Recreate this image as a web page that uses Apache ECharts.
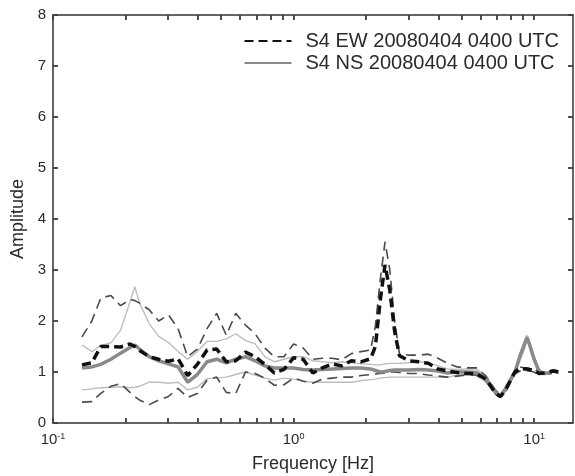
<!DOCTYPE html>
<html>
<head>
<meta charset="utf-8">
<script src="https://cdn.jsdelivr.net/npm/echarts@6/dist/echarts.min.js"></script>
<style>
  html, body { margin: 0; padding: 0; background: #fff; }
  #chart { width: 575px; height: 476px; }
</style>
</head>
<body>
<div id="chart"></div>
<script>
// frequency in Hz (log spaced)
var freq = [0.132, 0.145, 0.158, 0.174, 0.191, 0.209, 0.219, 0.229, 0.251, 0.275,
  0.302, 0.331, 0.363, 0.398, 0.437, 0.479, 0.525, 0.575, 0.631, 0.692,
  0.759, 0.832, 0.912, 1.0, 1.096, 1.202, 1.318, 1.445, 1.585, 1.738,
  1.905, 2.089, 2.188, 2.291, 2.399, 2.512, 2.630, 2.754, 3.020, 3.311,
  3.631, 3.981, 4.365, 4.786, 5.248, 5.754, 6.310, 6.918, 7.244, 7.586,
  8.318, 8.710, 9.120, 9.333, 9.550, 10.0, 10.47, 10.96, 11.48, 12.02, 12.59];

var ewMean = [1.14, 1.18, 1.5, 1.5, 1.49, 1.55, 1.5, 1.42, 1.3, 1.25,
  1.21, 1.26, 0.93, 1.15, 1.43, 1.45, 1.2, 1.22, 1.39, 1.3,
  1.15, 0.98, 1.05, 1.28, 1.25, 0.98, 1.08, 1.16, 1.12, 1.22,
  1.2, 1.26, 1.5, 2.4, 3.1, 2.6, 1.8, 1.32, 1.22, 1.2,
  1.17, 1.06, 1.02, 0.99, 0.97, 0.97, 0.86, 0.58, 0.52, 0.64,
  1.0, 1.07, 1.06, 1.06, 1.05, 1.04, 0.97, 0.98, 1.0, 1.02, 1.0];
var ewUpper = [1.69, 2.0, 2.45, 2.5, 2.3, 2.42, 2.4, 2.35, 2.22, 2.0,
  2.12, 1.85, 1.3, 1.45, 1.85, 2.15, 1.72, 2.15, 1.92, 1.75,
  1.47, 1.3, 1.3, 1.55, 1.47, 1.25, 1.27, 1.27, 1.24, 1.36,
  1.4, 1.43, 1.9, 2.8, 3.55, 3.0, 2.0, 1.36, 1.33, 1.33,
  1.35, 1.27, 1.17, 1.1, 1.08, 1.08, 0.92, 0.64, 0.56, 0.68,
  1.03, 1.1, 1.08, 1.08, 1.07, 1.06, 1.0, 1.0, 1.02, 1.04, 1.02];
var ewLower = [0.41, 0.42, 0.58, 0.72, 0.77, 0.6, 0.52, 0.45, 0.36, 0.45,
  0.52, 0.68, 0.5, 0.58, 0.84, 0.9, 0.6, 0.58, 1.0, 0.97,
  0.88, 0.74, 0.75, 0.88, 0.82, 0.78, 0.86, 0.88, 0.9, 0.9,
  0.93, 0.95, 0.96, 0.97, 0.98, 1.0, 1.0, 0.99, 0.97, 0.97,
  0.94, 0.92, 0.9, 0.92, 0.94, 0.94, 0.82, 0.56, 0.5, 0.6,
  0.96, 1.02, 1.02, 1.02, 1.02, 1.0, 0.94, 0.96, 0.97, 0.96, 0.98];

var nsMean = [1.08, 1.1, 1.15, 1.25, 1.37, 1.48, 1.53, 1.45, 1.3, 1.22,
  1.16, 1.1, 0.8, 0.95, 1.2, 1.25, 1.18, 1.25, 1.3, 1.22,
  1.12, 1.08, 1.08, 1.08, 1.05, 1.04, 1.05, 1.06, 1.07, 1.08,
  1.08, 1.06, 1.03, 1.0, 1.01, 1.03, 1.04, 1.04, 1.04, 1.05,
  1.04, 1.02, 0.98, 1.0, 1.0, 0.99, 0.86, 0.6, 0.53, 0.66,
  1.0, 1.3, 1.55, 1.68, 1.55, 1.25, 1.02, 0.97, 0.98, 1.03, 1.0];
var nsUpper = [1.53, 1.4, 1.52, 1.57, 1.82, 2.38, 2.67, 2.35, 1.95, 1.7,
  1.58, 1.4, 1.25, 1.4, 1.6, 1.6, 1.65, 1.75, 1.62, 1.55,
  1.3, 1.2, 1.25, 1.3, 1.3, 1.22, 1.2, 1.18, 1.2, 1.18,
  1.16, 1.15, 1.14, 1.14, 1.16, 1.17, 1.17, 1.17, 1.18, 1.2,
  1.18, 1.12, 1.06, 1.05, 1.06, 1.06, 0.92, 0.64, 0.56, 0.7,
  1.05, 1.35, 1.6, 1.72, 1.6, 1.3, 1.05, 1.0, 1.0, 1.05, 1.02];
var nsLower = [0.65, 0.67, 0.69, 0.7, 0.71, 0.69, 0.7, 0.72, 0.8, 0.8,
  0.78, 0.8, 0.65, 0.7, 0.87, 0.88, 0.9, 0.95, 1.0, 0.94,
  0.88, 0.84, 0.88, 0.86, 0.82, 0.8, 0.8, 0.8, 0.8, 0.8,
  0.83, 0.85, 0.86, 0.88, 0.89, 0.9, 0.9, 0.9, 0.9, 0.9,
  0.9, 0.9, 0.9, 0.94, 0.95, 0.93, 0.8, 0.56, 0.5, 0.62,
  0.96, 1.22, 1.45, 1.62, 1.5, 1.2, 0.98, 0.95, 0.96, 1.0, 0.98];

var xMin = 0.1;
var xMax = 14.5;
var xMinor = [0.1, 0.2, 0.3, 0.4, 0.5, 0.6, 0.7, 0.8, 0.9, 1, 2, 3, 4, 5, 6, 7, 8, 9, 10];

var axisColor = "#333";
var tickColor = "#444";
var txt = "#2a2a2a";
var font = "Liberation Sans, Arial, sans-serif";

function pairs(arr) {
  return freq.map(function (f, i) { return [f, arr[i]]; });
}

var minorLog = xMinor.map(function (v) { return Math.log10(v); });

// frame axis in log10 units (no data on it)
function frameAxis(pos) {
  return {
    type: "value",
    position: pos,
    min: Math.log10(xMin),
    max: Math.log10(xMax),
    axisLine: { show: true, onZero: false, lineStyle: { color: axisColor, width: 1.5 } },
    axisTick: { show: true, inside: true, length: 5, customValues: minorLog, lineStyle: { color: tickColor, width: 1.5 } },
    axisLabel: { show: false },
    splitLine: { show: false },
  };
}

// thin strips along the frame: their split lines act as inward ticks
function xStripAxis(gi) {
  return {
    gridIndex: gi,
    type: "value",
    min: Math.log10(xMin),
    max: Math.log10(xMax),
    axisLine: { show: false, onZero: false },
    axisTick: { show: false, customValues: minorLog },
    axisLabel: { show: false },
    splitLine: { show: true, lineStyle: { color: tickColor, width: 1.5 } },
  };
}
function yStripAxis(gi) {
  return {
    gridIndex: gi,
    type: "value",
    min: 0,
    max: 8,
    interval: 1,
    axisLine: { show: false, onZero: false },
    axisTick: { show: false },
    axisLabel: { show: false },
    splitLine: { show: true, lineStyle: { color: tickColor, width: 1.5 } },
  };
}
function hiddenAxis(gi) {
  return { gridIndex: gi, type: "value", min: 0, max: 1, show: false };
}

var myChart = echarts.init(document.getElementById("chart"));

var option = {
  animation: false,
  grid: [
    { left: 53, right: 2, top: 15, bottom: 53, outerBoundsMode: "none" },
    { left: 53, right: 2, top: 418, height: 5, outerBoundsMode: "none" },
    { left: 53, right: 2, top: 15, height: 5, outerBoundsMode: "none" },
    { left: 53, width: 5, top: 15, bottom: 53, outerBoundsMode: "none" },
    { right: 2, width: 5, top: 15, bottom: 53, outerBoundsMode: "none" },
  ],
  legend: {
    data: ["S4 EW 20080404 0400 UTC", "S4 NS 20080404 0400 UTC"],
    orient: "vertical",
    right: 11,
    top: 26,
    itemWidth: 47,
    itemHeight: 14,
    itemGap: 2,
    itemStyle: { color: "transparent", borderColor: "transparent", borderWidth: 0 },
    textStyle: { fontSize: 20, color: txt, fontFamily: font, padding: [0, 0, 0, 9] },
  },
  xAxis: [
    {
      type: "log",
      logBase: 10,
      min: xMin,
      max: xMax,
      name: "Frequency [Hz]",
      nameLocation: "middle",
      nameGap: 32,
      nameTextStyle: { fontSize: 18, color: txt, fontFamily: font },
      axisLine: { show: false, onZero: false },
      axisTick: { show: false },
      axisLabel: {
        margin: 9,
        color: txt,
        fontSize: 15,
        fontFamily: font,
        formatter: function (v) {
          var e = Math.round(Math.log10(v));
          if (Math.abs(Math.log10(v) - e) > 1e-6) return "";
          return "10{s|" + e + "}";
        },
        rich: { s: { fontSize: 9, verticalAlign: "top", color: txt, fontFamily: font } },
      },
      splitLine: { show: false },
    },
    frameAxis("bottom"),
    frameAxis("top"),
    xStripAxis(1),
    xStripAxis(2),
    hiddenAxis(3),
    hiddenAxis(4),
  ],
  yAxis: [
    {
      type: "value",
      min: 0,
      max: 8,
      interval: 1,
      name: "Amplitude",
      nameLocation: "middle",
      nameGap: 23,
      nameTextStyle: { fontSize: 18, color: txt, fontFamily: font },
      axisLine: { show: true, onZero: false, lineStyle: { color: axisColor, width: 1.5 } },
      axisTick: { show: true, inside: true, length: 5, lineStyle: { color: tickColor, width: 1.5 } },
      axisLabel: { color: txt, fontSize: 15, fontFamily: font, margin: 7 },
      splitLine: { show: false },
    },
    {
      type: "value",
      min: 0,
      max: 8,
      interval: 1,
      position: "right",
      axisLine: { show: true, onZero: false, lineStyle: { color: axisColor, width: 1.5 } },
      axisTick: { show: true, inside: true, length: 5, lineStyle: { color: tickColor, width: 1.5 } },
      axisLabel: { show: false },
      splitLine: { show: false },
    },
    hiddenAxis(1),
    hiddenAxis(2),
    yStripAxis(3),
    yStripAxis(4),
  ],
  series: [
    {
      name: "NS +std",
      type: "line",
      symbol: "none",
      data: pairs(nsUpper),
      lineStyle: { color: "#bdbdbd", width: 1.4 },
    },
    {
      name: "NS -std",
      type: "line",
      symbol: "none",
      data: pairs(nsLower),
      lineStyle: { color: "#bdbdbd", width: 1.4 },
    },
    {
      name: "EW +std",
      type: "line",
      symbol: "none",
      data: pairs(ewUpper),
      lineStyle: { color: "#4a4a4a", width: 1.6, type: [10, 6] },
    },
    {
      name: "EW -std",
      type: "line",
      symbol: "none",
      data: pairs(ewLower),
      lineStyle: { color: "#4a4a4a", width: 1.6, type: [10, 6] },
    },
    {
      name: "S4 NS 20080404 0400 UTC",
      type: "line",
      symbol: "none",
      data: pairs(nsMean),
      lineStyle: { color: "#8a8a8a", width: 3.5 },
    },
    {
      name: "S4 EW 20080404 0400 UTC",
      type: "line",
      symbol: "none",
      data: pairs(ewMean),
      lineStyle: { color: "#111", width: 3.5, type: [9, 5] },
    },
  ],
};

myChart.setOption(option);
window.addEventListener("resize", function () {
  myChart.resize();
});
</script>
</body>
</html>
